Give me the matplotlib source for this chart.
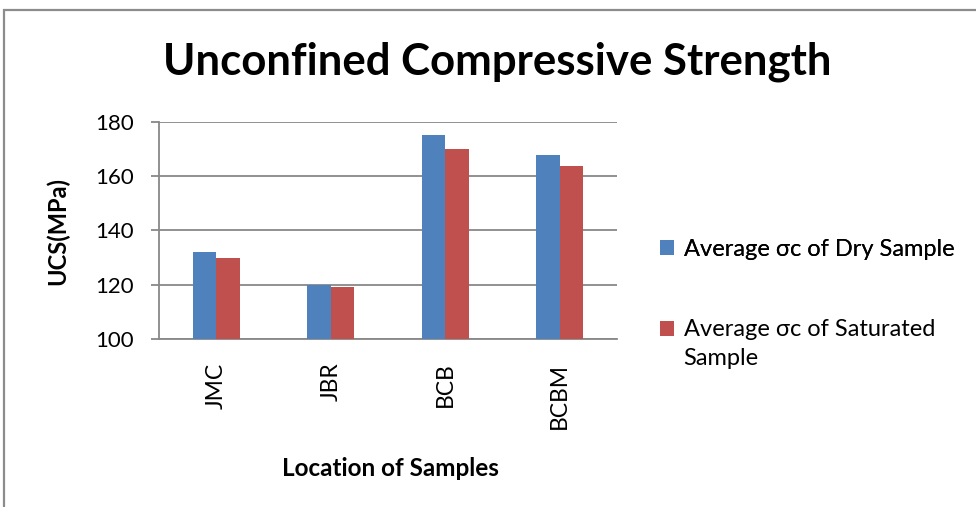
import matplotlib
matplotlib.use("Agg")
import matplotlib.pyplot as plt
import numpy as np
from matplotlib.patches import Rectangle

categories = ["JMC", "JBR", "BCB", "BCBM"]
dry = [132.1, 120.0, 175.2, 167.8]
saturated = [129.9, 119.2, 170.0, 163.8]
series_names = ["Average σc of Dry Sample", "Average σc of Saturated\nSample"]
yticks = [100, 120, 140, 160, 180]

FONT = ["Lato", "DejaVu Sans"]
plt.rcParams["font.family"] = FONT

fig = plt.figure(figsize=(9.76, 5.07), dpi=100)
# outer chart border
fig.patches.append(Rectangle((4/976, -0.1), 1.2, (1 - 10/507) + 0.1, transform=fig.transFigure,
                             fill=False, edgecolor="#8c8c8c", linewidth=1.6))

ax = fig.add_axes([159/976, 1 - 339/507, (617 - 159)/976, (339 - 122)/507])
x = np.arange(len(categories))
w = 0.205
b1 = ax.bar(x - w/2, dry, w, color="#4f81bd", zorder=3, label=series_names[0])
b2 = ax.bar(x + w/2, saturated, w, color="#c0504d", zorder=3, label=series_names[1])

ax.set_xlim(-0.5, len(categories) - 0.5)
ax.set_ylim(100, 180)
ax.set_yticks(yticks)
ax.set_yticklabels([str(t) for t in yticks], fontsize=16)
ax.set_xticks(x)
ax.set_xticklabels(categories, rotation=90, fontsize=16.5)
ax.tick_params(axis="y", direction="out", length=6, width=1.3, color="#888888", pad=12)
ax.tick_params(axis="x", length=0, pad=17)
ax.yaxis.grid(True, color="#888888", linewidth=1.3, zorder=0)
for s in ["top", "right"]:
    ax.spines[s].set_visible(False)
for s in ["left", "bottom"]:
    ax.spines[s].set_color("#888888")
    ax.spines[s].set_linewidth(1.3)

ax.set_ylabel("UCS(MPa)", fontsize=17, fontweight="bold", va="center")
ax.yaxis.set_label_coords(58/976, 1 - 231/507, transform=fig.transFigure)
ax.set_xlabel("Location of Samples", fontsize=17.5, fontweight="bold", va="center")
ax.xaxis.set_label_coords(390/976, 1 - 468/507, transform=fig.transFigure)

fig.text(497/976, 1 - 62/507, "Unconfined Compressive Strength", ha="center", va="center",
         fontsize=31.5, fontweight="bold")

# legend: first line of each entry aligned with its swatch
sat_lines = series_names[1].split("\n")
blank = Rectangle((0, 0), 1, 1, fill=False, edgecolor="none", visible=False)
leg_kw = dict(loc="center left", frameon=False, fontsize=17, handlelength=0.6,
              handleheight=0.6, handletextpad=0.4, borderpad=0, borderaxespad=0)
leg1 = fig.legend(handles=[b1], labels=[series_names[0]],
                  bbox_to_anchor=(660/976, 1 - 249/507), **leg_kw)
leg2 = fig.legend(handles=[b2, blank], labels=sat_lines, labelspacing=0.3,
                  bbox_to_anchor=(660/976, 1 - 344/507), **leg_kw)
fig.add_artist(leg1)

fig.savefig("out.png", dpi=100)
